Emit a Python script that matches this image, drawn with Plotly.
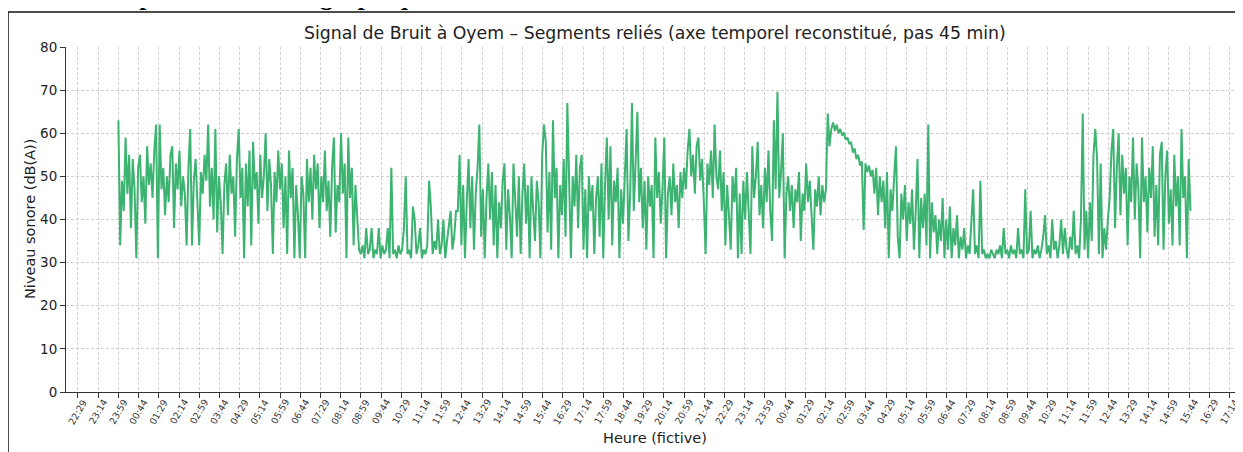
import plotly.graph_objects as go

# ---- Data (dB(A)), in consecutive segments ----
seg_a = [63,34,49,42,59,46,55,38,54,47,
         31,52,55,44,50,39,57,48,53,45,
         56,62,31,62,47,52,41,50,44,55,
         57,38,53,47,56,43,50,46,34,52,
         61,34,49,54,44,34,51,46,55,49,
         62,43,52,40,61,37,50,44,32,48,
         53,41,55,46,50,36,54,61,45,52,
         31,53,43,56,34,58,47,51,39,55,
         45,50,60,42,54,48,32,51,44,56,
         47,53,38,50,32,56,45,52,31,48,
         41,31,50,46,31,54,44,52,40,55,
         47,53,38,50,44,56,42,49,36,52,
         59,37,48,44,60,46,53,31,59,45,
         52,34,48,40]
seg_b = [33,32,34,31,38,32,33,38,31,33,
         32,38,31,34,32,33,38,31,52,32,
         33,31,34,32,33,38,50,32,33,31,
         43,40,32,34,38,31,33,32,34,49,
         43,32,35,33,40,32,34,40,31,35,
         38,42,33,36,42]
seg_c = [42,55,34,48,31,44,54,38,50,33,
         46,52,62,36,47,31,45,53,40,51,
         34,48,31,44,38,49,53,33,47,41,
         31,53,44,36,50,32,46,53,39,48,
         31,50,42,35,49,44,31,55,62,58,
         37,51,33,63,45,52,31,48,41,54,
         36,67,49,31,50,43,55,38,52,55,
         33,47,31,50,42,48,32,45,50,36,
         53,31,48,59,40,57,34,49,44,52,
         31,47,39,51,61,35,46,67,42,53,
         65,44,52,38,49,33,50,43,48,31,
         59,45,51,39,47,59,31,46,50,41,
         53,44,48,38,51,45]
seg_d = [52,47,56,61,50,55,46,57,59,49,54,44,32,53,48,56,45,62,50]
seg_e = [47,56,42,51,34,48,41,33,50,44,
         52,31,46,32,49,40,51,43,32,57,
         45,50,58,41,48,38,52,44,56,42,
         35,63,47,69.6,45,51,60]
seg_f = [31,46,50,42,48,38,47,44,51,35,
         46,42,53,44,49,40,33,47,43,50,
         41,48,44,47]
seg_g = [64.6,57,61,62.5,60.5,62,60,61,59.5,60.2,
         58.5,59,57.5,58,55.5,56.5,54,55,52.5,53.5,
         37.6,53,51,52.5,50,51.5]
seg_h = [46,52,41,50,44,49,38,51,31,47,
         42,50,57,36,31,46,40,48,35,44,
         39,47,33,42,54,31,45,38,46,34,
         62,31,44,37,41,32,40]
seg_i = [35,45,31,40,33,43,31,38,34,41,
         31,36,33,38,31,34,32,39,47,32,
         34,31]
seg_j = [49,32,33,31,32,31,33,32,31,33,
         32,34,31,38,32,33,31,34,32,33,
         31,38,32,33,31,47,32,33,42,31,
         33,32,34,31,33,36,41,32,34,31,
         40,33,35,31,34,40,32,38,33,31,
         36,33,42,32]
seg_k = [34,31,40,64.6,33,42,31,44,35,55,61,54,32,53,31,38,33,40]
seg_l = [45,56,61,38,52,60,41,55,46,52,
         34,50,44,59,40,53,47,31,59,44,
         50,37,52,45,57,36,48,34,55,58,
         33,50,56,39,47,34,55,43,50,34,
         61,45,50,31,54,42]

niveau_db = (seg_a + seg_b + seg_c + seg_d + seg_e + seg_f +
             seg_g + seg_h + seg_i + seg_j + seg_k + seg_l)

debut_min = 90      # 23:59, minutes after 22:29
pas_min = 4
temps_min = [debut_min + pas_min * i for i in range(len(niveau_db))]

heures_ticks = ["22:29","23:14","23:59","00:44","01:29","02:14","02:59","03:44","04:29","05:14",
                "05:59","06:44","07:29","08:14","08:59","09:44","10:29","11:14","11:59","12:44",
                "13:29","14:14","14:59","15:44","16:29","17:14","17:59","18:44","19:29","20:14",
                "20:59","21:44",
                "22:29","23:14","23:59","00:44","01:29","02:14","02:59","03:44","04:29","05:14",
                "05:59","06:44","07:29","08:14","08:59","09:44","10:29","11:14","11:59","12:44",
                "13:29","14:14","14:59","15:44","16:29","17:14"]
ticks_min = [45 * k for k in range(len(heures_ticks))]
y_ticks = [0, 10, 20, 30, 40, 50, 60, 70, 80]

titre = "Signal de Bruit à Oyem – Segments reliés (axe temporel reconstitué, pas 45 min)"
titre_x = "Heure (fictive)"
titre_y = "Niveau sonore (dB(A))"
entete = "Représentation du graphique"

# ---- Layout geometry (screen pixels; the page body adds an 8 px offset) ----
OFF = 8
SW, SH = 1243, 452
W, H = SW - OFF, SH - OFF
ML, MR, MT, MB = 66 - OFF, 0, 47 - OFF, H - (392 - OFF)


def px_x(spx):
    return (spx - OFF - ML) / (W - ML - MR)


def px_y(spy):
    return (H - MB - (spy - OFF)) / (H - MT - MB)


FONT = "DejaVu Sans"
AXC = "#333333"
GRID = "#d0d0d0"

fig = go.Figure()
fig.add_trace(go.Scatter(x=temps_min, y=niveau_db, mode="lines",
                         line=dict(color="#3CB371", width=2),
                         hoverinfo="skip", showlegend=False))

annotations = []
for tv, lab in zip(ticks_min, heures_ticks):
    annotations.append(dict(x=tv, xref="x", y=px_y(411.8), yref="paper",
                            text=lab, textangle=-60, showarrow=False,
                            xanchor="center", yanchor="middle",
                            font=dict(family=FONT, size=9.3, color=AXC)))
annotations.append(dict(x=px_x(655), xref="paper", y=px_y(33), yref="paper",
                        text=titre, showarrow=False, xanchor="center", yanchor="middle",
                        font=dict(family=FONT, size=17.3, color="#222222")))
annotations.append(dict(x=px_x(655), xref="paper", y=px_y(438), yref="paper",
                        text=titre_x, showarrow=False, xanchor="center", yanchor="middle",
                        font=dict(family=FONT, size=14.5, color="#222222")))
annotations.append(dict(x=px_x(30), xref="paper", y=px_y(219), yref="paper",
                        text=titre_y, textangle=-90, showarrow=False,
                        xanchor="center", yanchor="middle",
                        font=dict(family=FONT, size=14.5, color="#222222")))
annotations.append(dict(x=px_x(106.7), xref="paper", y=px_y(13), yref="paper",
                        text="<b>" + entete + "</b>", showarrow=False,
                        xanchor="left", yanchor="bottom",
                        font=dict(family="Liberation Serif", size=26, color="#000000")))

shapes = [
    dict(type="line", xref="paper", yref="paper", x0=px_x(8), x1=px_x(1250),
         y0=px_y(12), y1=px_y(12), line=dict(color="#111111", width=1.5)),
    dict(type="line", xref="paper", yref="paper", x0=px_x(8), x1=px_x(8),
         y0=px_y(12), y1=px_y(470), line=dict(color="#111111", width=1.5)),
]

fig.update_layout(
    width=W, height=H,
    margin=dict(l=ML, r=MR, t=MT, b=MB, pad=0),
    paper_bgcolor="white", plot_bgcolor="white",
    showlegend=False,
    annotations=annotations,
    shapes=shapes,
    xaxis=dict(range=[-26.7, 2595], tickmode="array", tickvals=ticks_min,
               showticklabels=False, ticks="outside", ticklen=5, tickwidth=1,
               tickcolor=AXC, showline=True, linecolor=AXC, linewidth=1,
               showgrid=True, gridcolor=GRID, gridwidth=0.8, griddash="3px,2px",
               zeroline=False),
    yaxis=dict(range=[0, 80], tickmode="array", tickvals=y_ticks,
               ticks="outside", ticklen=5, tickwidth=1, tickcolor=AXC,
               showline=True, linecolor=AXC, linewidth=1,
               showgrid=True, gridcolor=GRID, gridwidth=0.8, griddash="3px,2px",
               zeroline=False,
               tickfont=dict(family=FONT, size=13.5, color="#222222")),
)

fig.write_html("out.html")
